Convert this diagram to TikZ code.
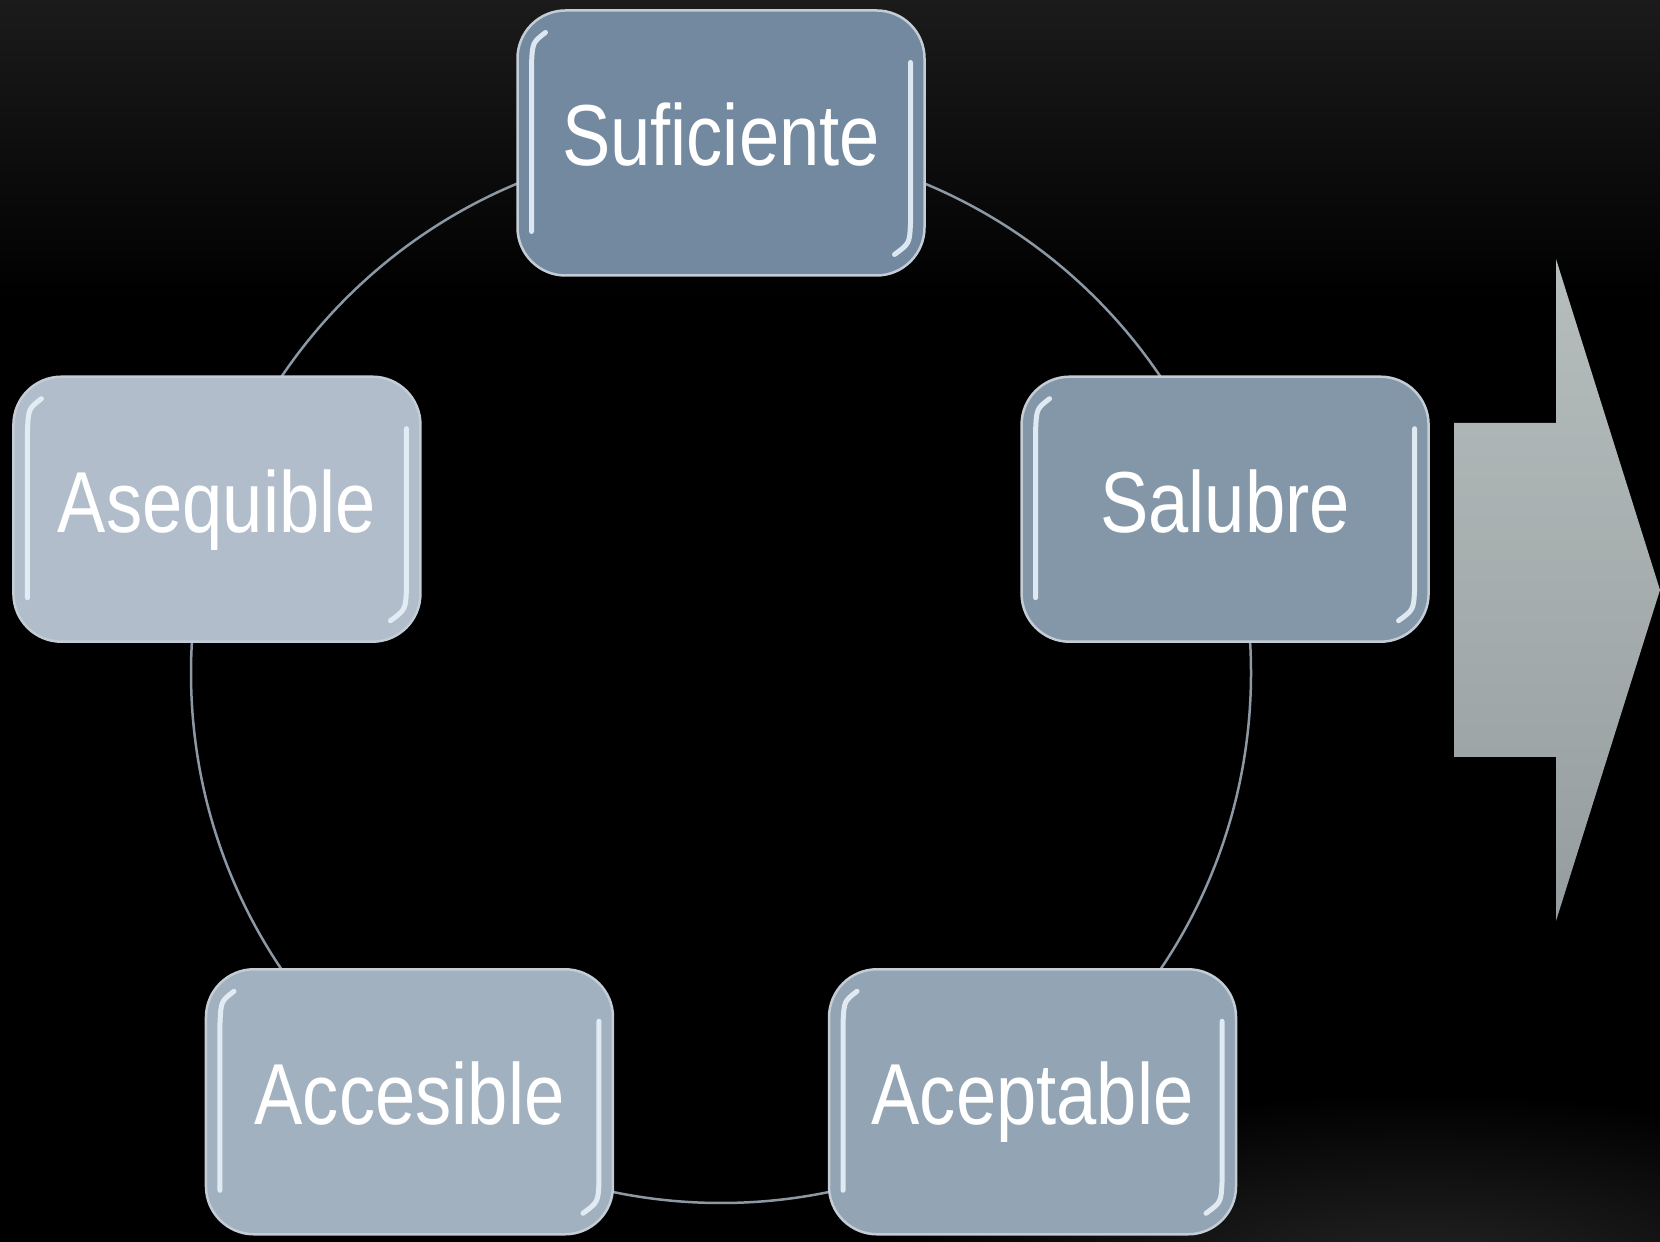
\documentclass[tikz,border=0pt]{standalone}
\usepackage{fontspec}
\newfontfamily\boxfont[FakeStretch=0.836]{Liberation Sans}
\usepackage{tikz}
\usetikzlibrary{
  positioning,
  calc
}
\definecolor{colSuf}{HTML}{7289A0}
\definecolor{colSal}{HTML}{8497A9}
\definecolor{colAcp}{HTML}{93A4B5}
\definecolor{colAcc}{HTML}{A2B1C0}
\definecolor{colAse}{HTML}{B1BDCA}
\definecolor{boxEdge}{HTML}{C4CDD6}
\definecolor{ringGray}{HTML}{8C98A4}
\definecolor{topGray}{HTML}{1B1B1B}
\definecolor{glowGray}{HTML}{262626}
\definecolor{arrowTop}{HTML}{B5BDBD}
\definecolor{arrowBot}{HTML}{959D9E}
\definecolor{glintBlue}{HTML}{E8F2FA}
\tikzstyle{kbox}=[rectangle, rounded corners=48pt, draw=boxEdge, line width=2.5pt,
  minimum width=407pt, minimum height=265pt, inner sep=0pt, outer sep=0pt,
  text=white, font=\boxfont\fontsize{86.6}{90}\selectfont,
  text height=62pt, text depth=16pt]
\tikzstyle{ring}=[draw=ringGray, line width=2.5pt]
\tikzstyle{glint}=[glintBlue, line width=5pt, line cap=round, opacity=0.9]

% 箱の縁の光
\newcommand{\glint}[1]{%
  \draw[glint] ($(#1.north west)+(28,-22)$) .. controls ($(#1.north west)+(15,-32)$) .. ($(#1.north west)+(14,-54)$)
    -- ($(#1.south west)+(14,44)$);
  \draw[glint] ($(#1.north east)+(-14,-52)$) -- ($(#1.south east)+(-14,52)$)
    .. controls ($(#1.south east)+(-15,32)$) .. ($(#1.south east)+(-30,21)$);
}

\begin{document}
\begin{tikzpicture}[x=1pt, y=1pt]
  \def\R{530}

  % 背景
  \useasboundingbox (0,0) rectangle (1660,1242);
  \fill[black] (0,0) rectangle (1660,1242);
  \fill[top color=topGray, bottom color=black] (0,942) rectangle (1660,1242);
  \fill[inner color=glowGray, outer color=black] (1420,-40) ellipse [x radius=560, y radius=190];

  % 円の中心
  \coordinate (M) at (721,569);

  % 円
  \draw[ring] (M) circle [radius=\R];

  % 五つの箱
  \node[kbox, fill=colSuf] (suf) at ($(M)+(90:\R)$) {Suficiente};
  \node[kbox, fill=colSal] (sal) at ($(M)+(18:\R)$) {Salubre};
  \node[kbox, fill=colAcp] (acp) at ($(M)+(-54:\R)$) {Aceptable};
  \node[kbox, fill=colAcc] (acc) at ($(M)+(-126:\R)$) {Accesible};
  \node[kbox, fill=colAse] (ase) at ($(M)+(162:\R)$) {Asequible};

  \foreach \n in {suf, sal, acp, acc, ase} {\glint{\n}}

  % 右の矢印
  \fill[top color=arrowTop, bottom color=arrowBot]
    (1454,819) -- (1556,819) -- (1556,983) -- (1660,652) -- (1556,321) -- (1556,485) -- (1454,485) -- cycle;
\end{tikzpicture}
\end{document}
